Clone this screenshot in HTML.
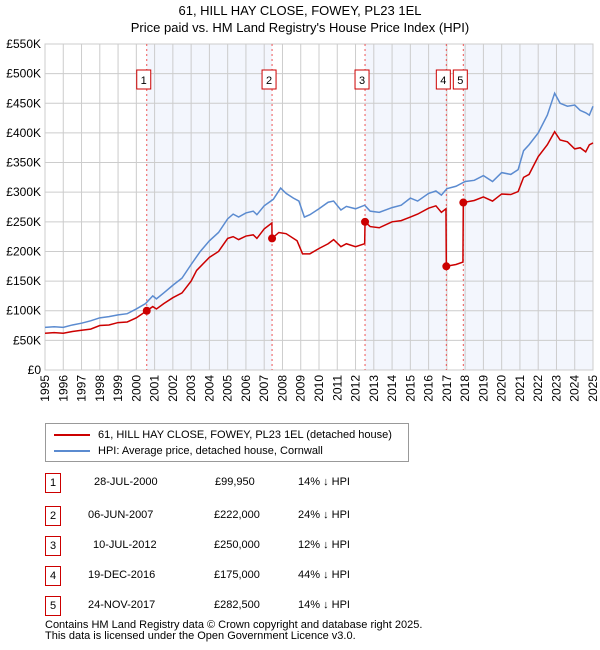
<!DOCTYPE html>
<html><head><meta charset="utf-8"><style>
body{margin:0;width:600px;height:650px;background:#fff;font-family:"Liberation Sans","DejaVu Sans",sans-serif;color:#000;position:relative;overflow:hidden}
.t{position:absolute;font-size:12px}
.row{position:absolute;left:0;width:600px;height:20px;font-size:11px}
.row span{position:absolute;top:3px}
.nb{position:absolute;left:45px;top:0;width:14px;height:18px;border:1px solid #c00;font-size:11px;text-align:center;line-height:18px}
</style></head><body>
<div class="t" style="left:0;width:600px;text-align:center;top:3px;font-size:13px">61, HILL HAY CLOSE, FOWEY, PL23 1EL</div>
<div class="t" style="left:0;width:600px;text-align:center;top:20px;font-size:13px">Price paid vs. HM Land Registry's House Price Index (HPI)</div>
<svg id="chart" width="600" height="415" style="position:absolute;left:0;top:0"></svg>
<div style="position:absolute;left:45px;top:423px;width:362px;height:37px;border:1px solid #999;font-size:11px">
<div style="position:absolute;left:8px;top:5px"><span style="display:inline-block;width:36px;height:2px;background:#c00;vertical-align:middle;margin-right:8px"></span>61, HILL HAY CLOSE, FOWEY, PL23 1EL (detached house)</div>
<div style="position:absolute;left:8px;top:21px"><span style="display:inline-block;width:36px;height:2px;background:#5b8bd0;vertical-align:middle;margin-right:8px"></span>HPI: Average price, detached house, Cornwall</div>
</div>
<div class="row" style="top:473px"><div class="nb">1</div><span style="left:94px">28-JUL-2000</span><span style="left:215px">£99,950</span><span style="left:298px">14% ↓ HPI</span></div>
<div class="row" style="top:506px"><div class="nb">2</div><span style="left:88px">06-JUN-2007</span><span style="left:214px">£222,000</span><span style="left:298px">24% ↓ HPI</span></div>
<div class="row" style="top:536px"><div class="nb">3</div><span style="left:93px">10-JUL-2012</span><span style="left:214px">£250,000</span><span style="left:298px">12% ↓ HPI</span></div>
<div class="row" style="top:566px"><div class="nb">4</div><span style="left:88px">19-DEC-2016</span><span style="left:214px">£175,000</span><span style="left:298px">44% ↓ HPI</span></div>
<div class="row" style="top:596px"><div class="nb">5</div><span style="left:88px">24-NOV-2017</span><span style="left:214px">£282,500</span><span style="left:298px">14% ↓ HPI</span></div>
<div class="t" style="left:45px;top:620px;font-size:11px;line-height:11px">Contains HM Land Registry data © Crown copyright and database right 2025.<br>This data is licensed under the Open Government Licence v3.0.</div>
<script>
const yTicks=[0,50,100,150,200,250,300,350,400,450,500,550];
const years=[1995,1996,1997,1998,1999,2000,2001,2002,2003,2004,2005,2006,2007,2008,2009,2010,2011,2012,2013,2014,2015,2016,2017,2018,2019,2020,2021,2022,2023,2024,2025];
const hpiT=[1995,1995.5,1996,1996.5,1997,1997.5,1998,1998.5,1999,1999.5,2000,2000.5,2000.9,2001.1,2001.5,2002,2002.5,2003,2003.5,2004,2004.5,2005,2005.3,2005.6,2006,2006.4,2006.6,2007,2007.5,2007.9,2008.2,2008.6,2008.9,2009.2,2009.5,2010,2010.5,2010.8,2011.2,2011.5,2012,2012.5,2012.8,2013.3,2014,2014.5,2015,2015.4,2016,2016.4,2016.7,2017,2017.5,2018,2018.5,2019,2019.5,2020,2020.5,2020.9,2021.2,2021.5,2022,2022.5,2022.9,2023.2,2023.6,2024,2024.3,2024.6,2024.8,2025];
const hpiV=[72,73,72,76,79,83,88,90,93,95,103,112,125,120,130,143,155,178,200,218,232,255,263,258,265,268,262,277,288,307,298,290,285,258,262,272,283,285,270,276,272,278,268,266,274,278,290,285,298,302,295,306,310,318,320,328,318,333,330,338,370,380,400,430,467,450,445,447,438,434,430,445];
const redT=[1995,1995.5,1996,1996.5,1997,1997.5,1998,1998.5,1999,1999.5,2000,2000.57,2000.9,2001.1,2001.5,2002,2002.5,2003,2003.3,2004,2004.5,2005,2005.3,2005.6,2006,2006.4,2006.6,2007,2007.42,2007.43,2007.8,2008.2,2008.8,2009.1,2009.5,2010,2010.5,2010.8,2011.2,2011.5,2012,2012.5,2012.52,2012.8,2013.3,2014,2014.5,2015,2015.4,2016,2016.4,2016.7,2016.95,2016.97,2017.5,2017.88,2017.9,2018.5,2019,2019.5,2020,2020.5,2020.9,2021.2,2021.5,2022,2022.5,2022.9,2023.2,2023.6,2024,2024.3,2024.6,2024.8,2025];
const redV=[62,63,62,65,67,69,75,76,80,81,88,99.95,107,103,112,122,130,150,168,190,200,222,225,220,226,228,222,238,248,222,232,230,218,196,196,205,213,220,208,213,208,213,250,242,240,250,252,258,263,273,277,266,272,175,178,182,282.5,286,292,285,297,296,301,325,330,360,380,402,388,385,373,375,368,380,383];
const saleT=[2000.57,2007.43,2012.52,2016.97,2017.9];
const saleV=[99.95,222,250,175,282.5];
const saleLabels=["1","2","3","4","5"];
const svg=document.getElementById('chart');const NS='http://www.w3.org/2000/svg';
const L=45,R=593,T=44,B=370;
const x=t=>L+(t-1995)/30*(R-L);
const y=v=>B-v/550*(B-T);
function mk(tag,a){const e=document.createElementNS(NS,tag);for(const k in a)e.setAttribute(k,a[k]);svg.appendChild(e);return e;}
for(let i=0;i<saleT.length;i+=2){const e=i+1<saleT.length?saleT[i+1]:2025;
const r=mk('rect',{x:x(saleT[i]),y:T,width:x(e)-x(saleT[i]),height:B-T,fill:'#eef2fc',opacity:0.7});

}
yTicks.forEach(v=>{const l=mk('line',{x1:L,x2:R,y1:y(v),y2:y(v),stroke:'#ccc'});


const t=mk('text',{x:L-4,y:y(v)+4,'text-anchor':'end','font-size':12});t.textContent=v==0?'£0':'£'+v+'K';

});
years.forEach(yr=>{const l=mk('line',{x1:x(yr),x2:x(yr),y1:T,y2:B,stroke:'#ccc'});


const t=mk('text',{x:0,y:0,'text-anchor':'end','font-size':12,transform:`translate(${x(yr)+4},${B+5}) rotate(-90)`});t.textContent=yr;

});
mk('rect',{x:L,y:T,width:R-L,height:B-T,fill:'none',stroke:'#ccc'});
saleT.forEach((t,i)=>{const l=mk('line',{x1:x(t),x2:x(t),y1:T,y2:B,stroke:'#e55','stroke-dasharray':'2,3'});

});
const hp=mk('polyline',{points:hpiT.map((t,i)=>x(t)+','+y(hpiV[i])).join(' '),fill:'none',stroke:'#5b8bd0','stroke-width':1.5});


const rp=mk('polyline',{points:redT.map((t,i)=>x(t)+','+y(redV[i])).join(' '),fill:'none',stroke:'#c00','stroke-width':1.5});


saleT.forEach((t,i)=>{const c=mk('circle',{cx:x(t),cy:y(saleV[i]),r:4,fill:'#c00'});


const cxp=x(t)-3;
const r=mk('rect',{x:cxp-7,y:70,width:14,height:19,fill:'#fff',stroke:'#c00'});


const tx=mk('text',{x:cxp,y:84,'text-anchor':'middle','font-size':11});tx.textContent=saleLabels[i];

});
</script>
</body></html>
